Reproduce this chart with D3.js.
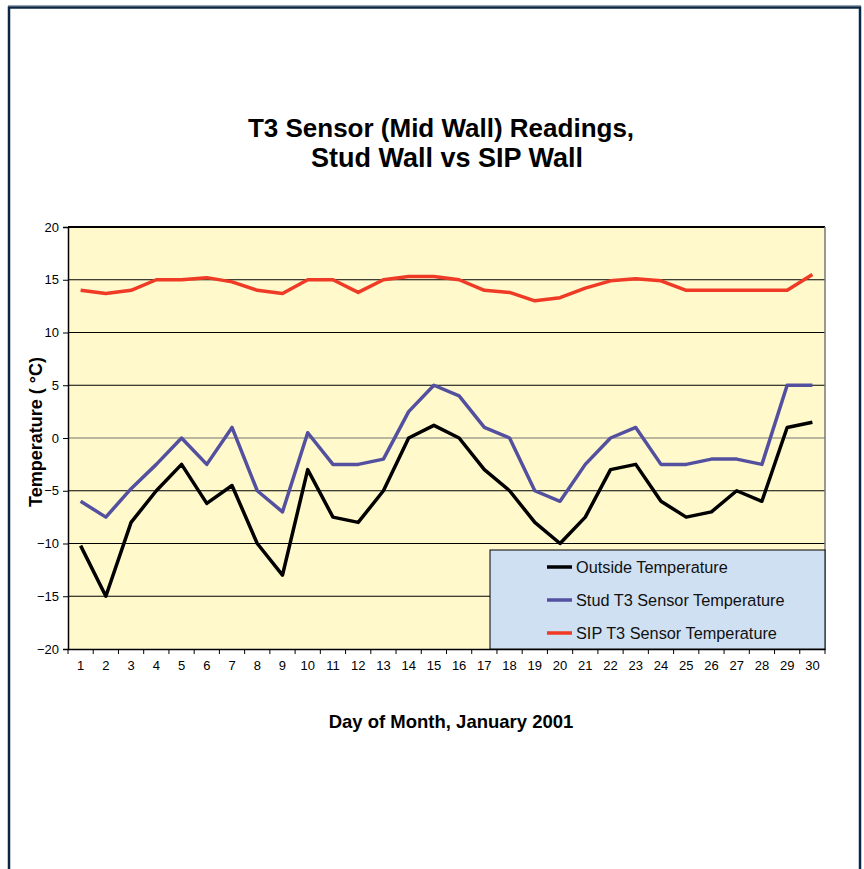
<!DOCTYPE html>
<html><head><meta charset="utf-8">
<script src="https://cdn.jsdelivr.net/npm/d3@7"></script>
<style>body{margin:0;background:#fff;} svg{display:block;font-family:"Liberation Sans",Arial,sans-serif;}</style>
</head><body>
<svg id="c" width="864" height="869"></svg>
<script>
const days = d3.range(1, 31).map(String);
const outside = [-10.2,-15,-8,-5,-2.5,-6.2,-4.5,-10,-13,-3,-7.5,-8,-5,0,1.2,0,-3,-5,-8,-10,-7.5,-3,-2.5,-6,-7.5,-7,-5,-6,1,1.5];
const stud = [-6,-7.5,-4.8,-2.5,0,-2.5,1,-5,-7,0.5,-2.5,-2.5,-2,2.5,5,4,1,0,-5,-6,-2.5,0,1,-2.5,-2.5,-2,-2,-2.5,5,5];
const sip = [14,13.7,14,15,15,15.2,14.8,14,13.7,15,15,13.8,15,15.3,15.3,15,14,13.8,13,13.3,14.2,14.9,15.1,14.9,14,14,14,14,14,15.5];
const yTicks = [20,15,10,5,0,-5,-10,-15,-20];
const seriesNames = ["Outside Temperature","Stud T3 Sensor Temperature","SIP T3 Sensor Temperature"];
const seriesColors = ["#000000","#5450a0","#ef3a26"];

const svg = d3.select("#c");
// outer frame
svg.append("line").attr("x1",8).attr("x2",861).attr("y1",5.5).attr("y2",5.5).attr("stroke","#9aa4b0").attr("stroke-width",1);
svg.append("path").attr("d","M9,869 V7.5 H860 V869").attr("fill","none").attr("stroke","#0c2744").attr("stroke-width",2.5);

const L=68, R=825, T=227, B=649;
const x = d3.scaleBand().domain(days).range([L,R]);
const y = d3.scaleLinear().domain([-20,20]).range([B,T]);

svg.append("rect").attr("x",L).attr("y",T).attr("width",R-L).attr("height",B-T).attr("fill","#fff9cc");
// gridlines
svg.append("g").selectAll("line").data(yTicks.filter(v=>v!==-20)).join("line")
  .attr("x1",L).attr("x2",R).attr("y1",d=>y(d)).attr("y2",d=>y(d))
  .attr("stroke",d=>d===0?"#777777":"#000").attr("stroke-width",d=>d===20?2:1.2);
svg.append("line").attr("x1",R).attr("x2",R).attr("y1",T).attr("y2",B).attr("stroke","#777").attr("stroke-width",1.5);

// y axis
const ya = svg.append("g").attr("transform",`translate(${L},0)`).call(d3.axisLeft(y).tickValues(yTicks).tickSize(5).tickPadding(4));
ya.select(".domain").attr("stroke","#000").attr("stroke-width",1.5);
ya.selectAll("text").attr("font-size",13).attr("fill","#000").attr("font-family","Liberation Sans, Arial, sans-serif");
// x axis
const xa = svg.append("g").attr("transform",`translate(0,${B})`).call(d3.axisBottom(x).tickSize(0).tickPadding(12));
xa.select(".domain").attr("stroke","#000").attr("stroke-width",1.5);
xa.selectAll("text").attr("font-size",13).attr("fill","#000").attr("font-family","Liberation Sans, Arial, sans-serif");
svg.append("g").selectAll("line").data(days.concat(["end"])).join("line")
  .attr("x1",(d,i)=>L+i*x.bandwidth()).attr("x2",(d,i)=>L+i*x.bandwidth())
  .attr("y1",B).attr("y2",B+5).attr("stroke","#000").attr("stroke-width",1);

// lines
const line = d3.line().x((d,i)=>x(days[i])+x.bandwidth()/2).y(d=>y(d));
[sip, stud, outside].forEach((s,k)=>{
  const idx = 2-k;
  svg.append("path").datum(s).attr("d",line).attr("fill","none")
    .attr("stroke",seriesColors[idx]).attr("stroke-width",3.5).attr("stroke-linejoin","round");
});

// legend
const lg = svg.append("g");
lg.append("rect").attr("x",490).attr("y",550).attr("width",R-490).attr("height",B-550)
  .attr("fill","#cfe0f3").attr("stroke","#000").attr("stroke-width",1);
seriesNames.forEach((n,i)=>{
  const yy = 567 + i*33;
  lg.append("line").attr("x1",547).attr("x2",572).attr("y1",yy).attr("y2",yy).attr("stroke",seriesColors[i]).attr("stroke-width",3.5);
  lg.append("text").attr("x",576).attr("y",yy+6).attr("font-size",16.3).attr("fill","#111").text(n);
});

// titles
const t = svg.append("text").attr("text-anchor","middle").attr("font-size",26).attr("font-weight","bold").attr("fill","#000");
t.append("tspan").attr("x",441).attr("y",137).text("T3 Sensor (Mid Wall) Readings,");
t.append("tspan").attr("x",447).attr("y",167).attr("font-size",27).text("Stud Wall vs SIP Wall");
svg.append("text").attr("x",451).attr("y",728).attr("text-anchor","middle").attr("font-size",18.5).attr("font-weight","bold").text("Day of Month, January 2001");
svg.append("text").attr("transform","translate(42,432) rotate(-90)").attr("text-anchor","middle").attr("font-size",18).attr("font-weight","bold").text("Temperature ( °C)");
</script>
</body></html>
